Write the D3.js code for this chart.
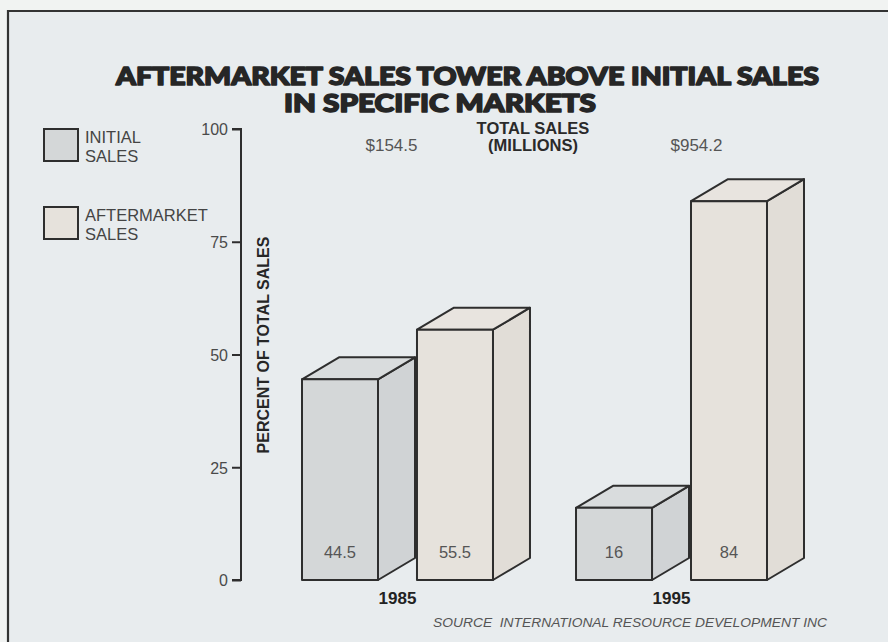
<!DOCTYPE html>
<html>
<head>
<meta charset="utf-8">
<script src="https://cdn.jsdelivr.net/npm/d3@7"></script>
<style>
  html, body { margin: 0; padding: 0; background: #f1f3f2; }
  svg { display: block; }
</style>
</head>
<body>
<svg id="chart" width="888" height="642"></svg>
<script>
// Share of total sales, by year and by kind of sale
const years = ["1985", "1995"];
const series = ["Initial", "Aftermarket"];
const initialSales = [44.5, 16];
const aftermarketSales = [55.5, 84];
const totalSales = ["$154.5", "$954.2"];
const yTicks = [0, 25, 50, 75, 100];
const legendLabels = [["INITIAL", "SALES"], ["AFTERMARKET", "SALES"]];

const svg = d3.select("#chart");
const W = 888, H = 642;

const palette = {
  Initial:     { front: "#d4d7d8", side: "#d0d3d5", top: "#d9dcdd" },
  Aftermarket: { front: "#e6e2dc", side: "#e1ddd7", top: "#e8e4df" }
};
const ink = "#2e2e2e";
const sans = "'Liberation Sans', Arial, Helvetica, sans-serif";

// panel background and frame
svg.append("rect").attr("x", 8).attr("y", 11).attr("width", W - 8).attr("height", H - 11)
  .attr("fill", "#e8ecee");
svg.append("path").attr("d", `M8,${H} L8,11 L${W},11`)
  .attr("fill", "none").attr("stroke", "#333").attr("stroke-width", 2.2);

// title, thickened with a stroke for a heavy display look
const titleFont = "'Lato', 'DejaVu Sans', sans-serif";
const titleLines = [
  { text: "AFTERMARKET SALES TOWER ABOVE INITIAL SALES", x: 467.5, y: 85, len: 703 },
  { text: "IN SPECIFIC MARKETS", x: 440, y: 112, len: 312 }
];
svg.selectAll("text.title").data(titleLines).join("text")
  .attr("class", "title")
  .attr("x", d => d.x).attr("y", d => d.y).attr("text-anchor", "middle")
  .attr("font-family", titleFont).attr("font-weight", 900).attr("font-size", 25)
  .attr("fill", "#262626").attr("stroke", "#262626").attr("stroke-width", 1.6)
  .attr("stroke-linejoin", "round")
  .attr("textLength", d => d.len).attr("lengthAdjust", "spacingAndGlyphs")
  .text(d => d.text);

// scales
const y = d3.scaleLinear().domain([0, 100]).range([580, 129]);
const x0 = d3.scaleBand().domain(years).range([302, 767]).paddingInner(0.303).paddingOuter(0);
const x1 = d3.scaleBand().domain(series).range([0, x0.bandwidth()]).paddingInner(0.339).paddingOuter(0);
const dx = 37, dy = -22;

// y axis
const axis = d3.axisLeft(y).tickValues(yTicks).tickSize(9).tickPadding(4);
const gAxis = svg.append("g").attr("transform", "translate(241,0)").call(axis);
gAxis.select(".domain").attr("d", `M-9,${y(100)}H0V${y(0)}H-9`)
  .attr("stroke", ink).attr("stroke-width", 2);
gAxis.selectAll(".tick line").attr("stroke", ink).attr("stroke-width", 2);
gAxis.selectAll(".tick text").attr("font-family", sans).attr("font-size", 16)
  .attr("fill", "#4a4a4a").attr("dy", "0.36em");

svg.append("text")
  .attr("transform", `translate(269,${345}) rotate(-90)`)
  .attr("text-anchor", "middle").attr("font-family", sans).attr("font-weight", "bold")
  .attr("font-size", 16).attr("fill", "#262626")
  .text("PERCENT OF TOTAL SALES");

// 3-D bars
const rows = years.map((yr, i) => ({
  year: yr,
  bars: [
    { key: "Initial", value: initialSales[i] },
    { key: "Aftermarket", value: aftermarketSales[i] }
  ]
}));

const groups = svg.selectAll("g.year").data(rows).join("g")
  .attr("class", "year")
  .attr("transform", d => `translate(${x0(d.year)},0)`);

const bar = groups.selectAll("g.bar").data(d => d.bars).join("g").attr("class", "bar");

bar.each(function(d) {
  const g = d3.select(this);
  const xl = x1(d.key), xr = xl + x1.bandwidth();
  const yt = y(d.value), yb = y(0);
  const c = palette[d.key];
  const outline = (sel) => sel.attr("stroke", ink).attr("stroke-width", 2).attr("stroke-linejoin", "round");
  // right side face
  outline(g.append("path")
    .attr("d", `M${xr},${yt} L${xr + dx},${yt + dy} L${xr + dx},${yb + dy} L${xr},${yb} Z`)
    .attr("fill", c.side));
  // top face
  outline(g.append("path")
    .attr("d", `M${xl},${yt} L${xl + dx},${yt + dy} L${xr + dx},${yt + dy} L${xr},${yt} Z`)
    .attr("fill", c.top));
  // front face
  outline(g.append("rect")
    .attr("x", xl).attr("y", yt).attr("width", xr - xl).attr("height", yb - yt)
    .attr("fill", c.front));
  // value label
  g.append("text")
    .attr("x", (xl + xr) / 2).attr("y", 558).attr("text-anchor", "middle")
    .attr("font-family", sans).attr("font-size", 16.5).attr("fill", "#555")
    .text(d.value);
});

// year labels
groups.append("text")
  .attr("x", x0.bandwidth() / 2).attr("y", 604).attr("text-anchor", "middle")
  .attr("font-family", sans).attr("font-weight", "bold").attr("font-size", 17)
  .attr("fill", "#222").text(d => d.year);

// total sales above each year
svg.selectAll("text.total").data(years).join("text")
  .attr("class", "total")
  .attr("x", (d, i) => x0(d) + x0.bandwidth() / 2 + (i === 0 ? -6 : 25))
  .attr("y", 151).attr("text-anchor", "middle")
  .attr("font-family", sans).attr("font-size", 17).attr("fill", "#555")
  .text((d, i) => totalSales[i]);

svg.append("text").attr("x", 533).attr("y", 134).attr("text-anchor", "middle")
  .attr("font-family", sans).attr("font-weight", "bold").attr("font-size", 16.5)
  .attr("fill", "#2a2a2a").text("TOTAL SALES");
svg.append("text").attr("x", 533).attr("y", 151).attr("text-anchor", "middle")
  .attr("font-family", sans).attr("font-weight", "bold").attr("font-size", 16.5)
  .attr("fill", "#2a2a2a").text("(MILLIONS)");

// legend
const legend = svg.selectAll("g.legend").data(series).join("g")
  .attr("class", "legend")
  .attr("transform", (d, i) => `translate(44,${129 + i * 78})`);
legend.append("rect").attr("width", 34).attr("height", 32)
  .attr("fill", d => palette[d].front).attr("stroke", ink).attr("stroke-width", 2);
legend.each(function(d, i) {
  const t = d3.select(this).append("text")
    .attr("font-family", sans).attr("font-size", 16.5).attr("fill", "#444");
  legendLabels[i].forEach((line, j) => {
    t.append("tspan").attr("x", 41).attr("y", 14 + j * 19).text(line);
  });
});

// source note
svg.append("text").attr("x", 433).attr("y", 627)
  .attr("font-family", sans).attr("font-style", "italic").attr("font-size", 13)
  .attr("fill", "#555").attr("textLength", 394).attr("lengthAdjust", "spacingAndGlyphs")
  .attr("xml:space", "preserve")
  .text("SOURCE  INTERNATIONAL RESOURCE DEVELOPMENT INC");
</script>
</body>
</html>
